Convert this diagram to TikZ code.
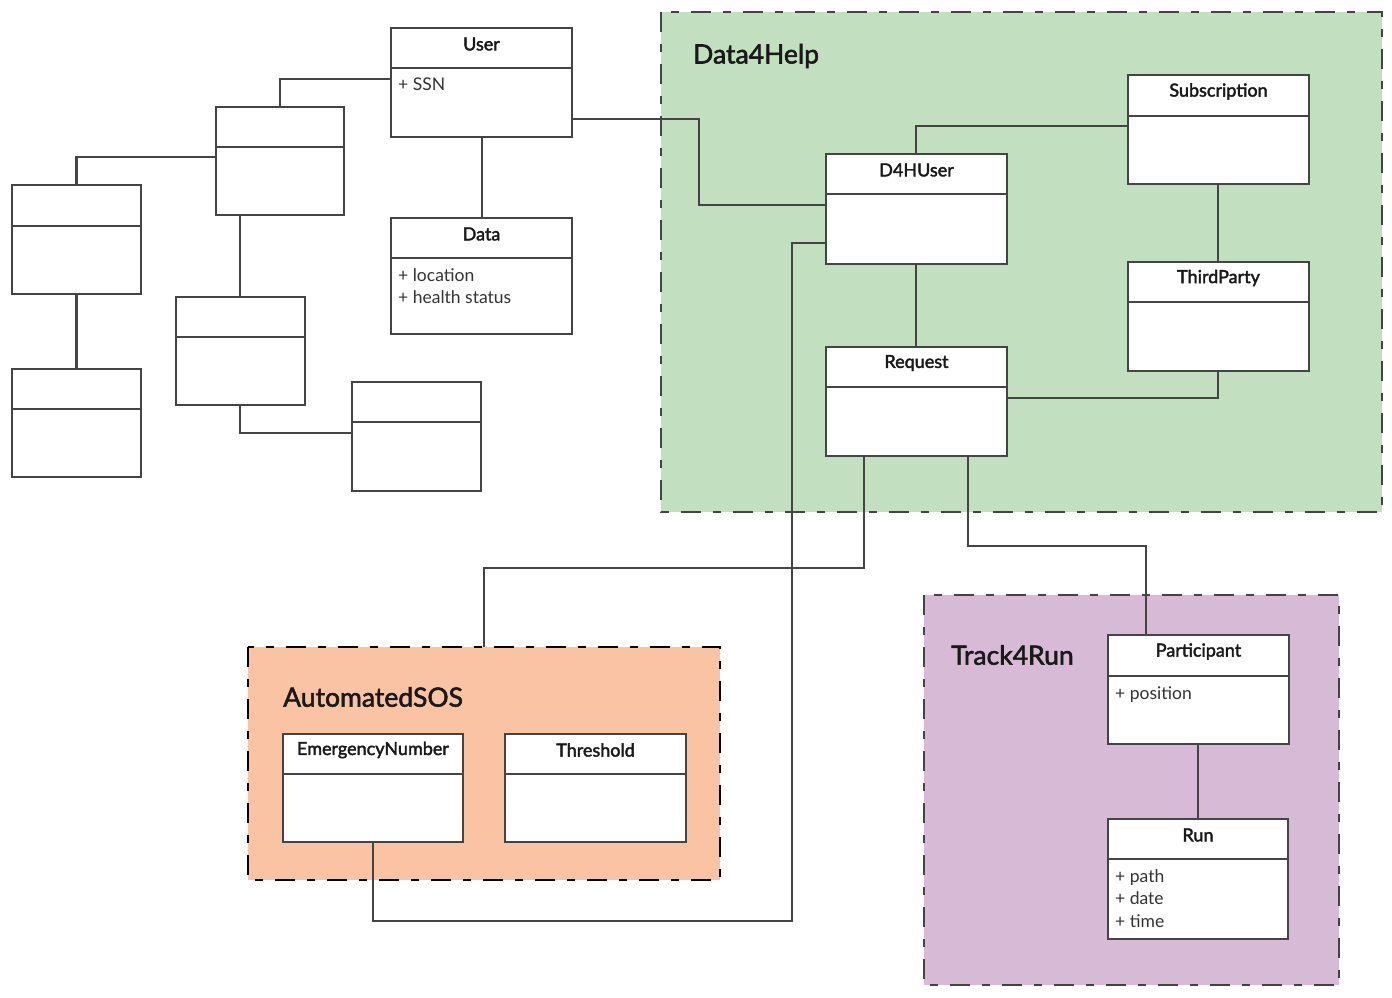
\documentclass[tikz,border=0pt]{standalone}
\usepackage{fontspec}
\setmainfont{Lato}
\newfontfamily\pkgfont{Lato}[FakeBold=2.0]
\newfontfamily\clsfont{Lato}[FakeBold=2.2]
\usetikzlibrary{calc}
\definecolor{lineclr}{HTML}{444444}
\definecolor{dhgreen}{HTML}{C2E0C0}
\definecolor{sosorange}{HTML}{F9C3A4}
\definecolor{runpurple}{HTML}{D6BAD6}
\tikzset{
  classbox/.style={draw=lineclr, line width=2.8pt, fill=white, inner sep=0pt, outer sep=0pt, anchor=north west},
  conn/.style={draw=lineclr, line width=2.8pt},
  pkgframe/.style={line width=2.8pt, dash pattern=on 20pt off 12pt on 8pt off 12pt},
  pkgtitle/.style={font=\pkgfont\fontsize{26.5}{30}\selectfont, anchor=west, inner sep=0pt, text=black!90},
  clsname/.style={font=\clsfont\fontsize{18}{21}\selectfont, inner sep=0pt, text=black!90},
  clsattr/.style={font=\fontsize{17.5}{22.5}\selectfont, anchor=north west, align=left, inner sep=0pt, text=black!80},
}
% name, x1, y1, x2, y2, divider y, title, attributes
\newcommand{\umlclass}[8]{%
  \pgfmathsetmacro{\cw}{#4-#2}%
  \pgfmathsetmacro{\ch}{#5-#3}%
  \pgfmathsetmacro{\cx}{(#2+#4)/2}%
  \pgfmathsetmacro{\cy}{(#3+#6)/2-4}%
  \node[classbox, minimum width=\cw pt, minimum height=\ch pt] (#1) at (#2,#3) {};
  \draw[conn] (#2,#6) -- (#4,#6);
  \node[clsname] at (\cx,\cy) {#7};
  \node[clsattr] at (#2+7,#6+10) {#8};
}
\begin{document}
\begin{tikzpicture}[x=1pt, y=-1pt]
\useasboundingbox (0,0) rectangle (1392,998);

% packages
\draw[pkgframe, draw=lineclr, fill=dhgreen] (661,12) rectangle (1382,512);
\draw[pkgframe, draw=black, fill=sosorange] (248,647) rectangle (720,880);
\draw[pkgframe, draw=lineclr, fill=runpurple] (924,595) rectangle (1339,985);
\node[pkgtitle] (t1) at (693,56) {Data4Help};
\node[pkgtitle] (t2) at (283,697) {AutomatedSOS};
\node[pkgtitle] (t3) at (951,655) {Track4Run};

% classes
\umlclass{user}{391}{28}{572}{137}{68}{User}{+ SSN}
\umlclass{data}{391}{218}{572}{334}{258}{Data}{+ location\\+ health status}
\umlclass{ba}{216}{107}{344}{215}{147}{}{}
\umlclass{bb}{12}{185}{141}{294}{226}{}{}
\umlclass{bc}{12}{369}{141}{477}{409}{}{}
\umlclass{bd}{176}{297}{305}{405}{337}{}{}
\umlclass{be}{352}{382}{481}{491}{422}{}{}
\umlclass{d4h}{826}{154}{1007}{264}{194}{D4HUser}{}
\umlclass{sub}{1128}{75}{1309}{184}{116}{Subscription}{}
\umlclass{tp}{1128}{262}{1309}{371}{302}{ThirdParty}{}
\umlclass{req}{826}{347}{1007}{456}{387}{Request}{}
\umlclass{emn}{283}{734}{463}{842}{774}{EmergencyNumber}{}
\umlclass{thr}{505}{734}{686}{842}{774}{Threshold}{}
\umlclass{par}{1108}{635}{1289}{744}{676}{Participant}{+ position}
\umlclass{run}{1108}{819}{1288}{939}{859}{Run}{+ path\\+ date\\+ time}

% connectors
\coordinate (sostop) at (484,647);
\draw[conn] (user.west |- 0,79) -| (ba.north);
\draw[conn] (ba.west |- 0,157) -| (bb.north);
\draw[conn] (bb.south) -- (bc.north);
\draw[conn] (ba.south -| 240,0) -- (bd.north -| 240,0);
\draw[conn] (bd.south -| 240,0) |- (be.west |- 0,433);
\draw[conn] (user.south -| 482,0) -- (data.north -| 482,0);
\draw[conn] (user.east |- 0,119) -- (699,119) |- (d4h.west |- 0,205);
\draw[conn] (d4h.north -| 916,0) |- (sub.west |- 0,126);
\draw[conn] (sub.south -| 1218,0) -- (tp.north -| 1218,0);
\draw[conn] (d4h.south -| 916,0) -- (req.north -| 916,0);
\draw[conn] (tp.south -| 1218,0) |- (req.east |- 0,398);
\draw[conn] (req.south -| 864,0) -- (864,568) -| (sostop);
\draw[conn] (req.south -| 968,0) -- (968,546) -| (par.north -| 1146,0);
\draw[conn] (d4h.west |- 0,243) -- (792,243) -- (792,921) -| (emn.south -| 373,0);
\draw[conn] (par.south -| 1198,0) -- (run.north -| 1198,0);
\end{tikzpicture}
\end{document}
